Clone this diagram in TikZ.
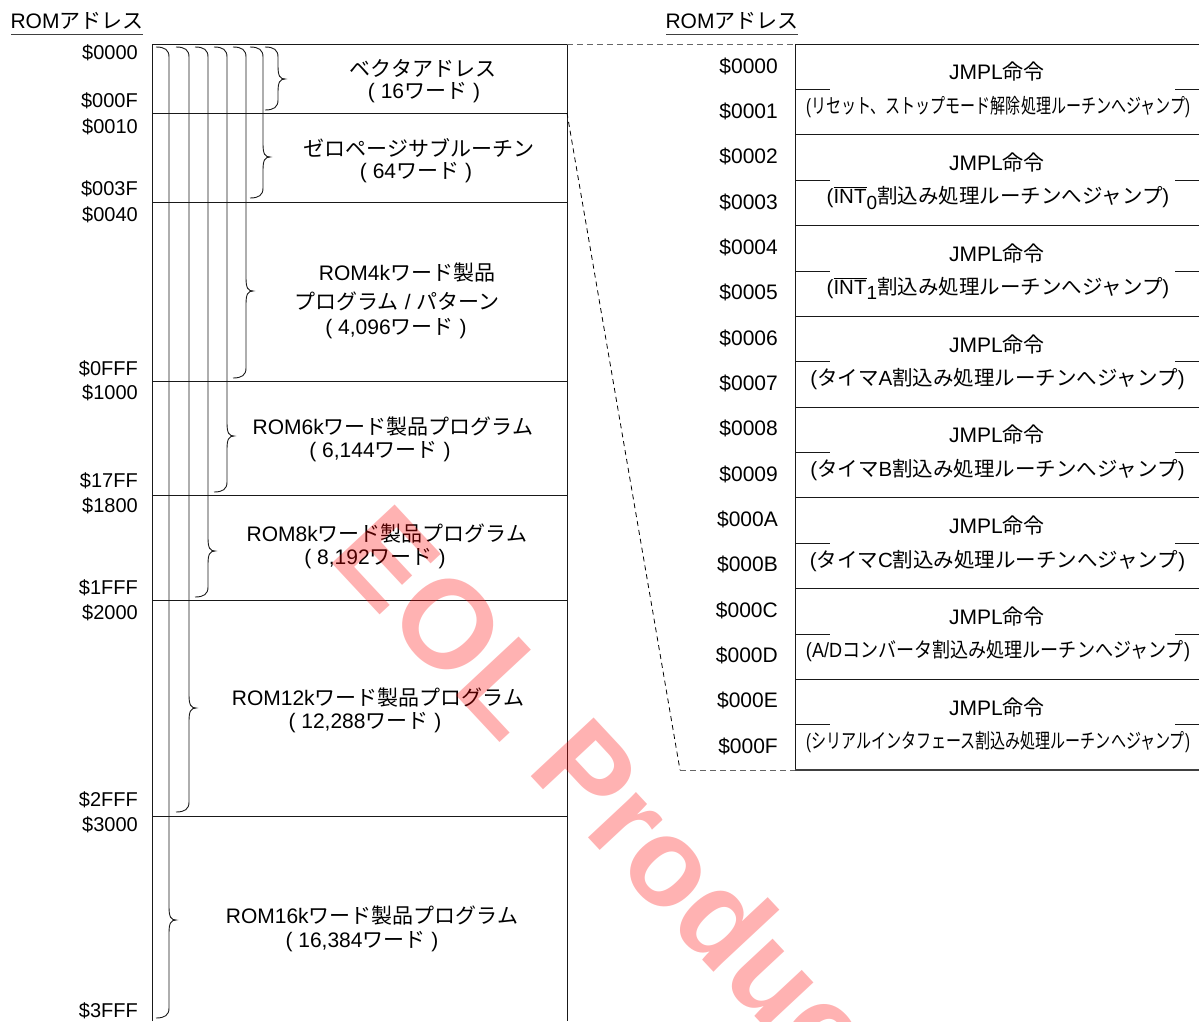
\documentclass[tikz,border=0pt]{standalone}
\usepackage{fontspec}
\usepackage{graphicx}
\setmainfont{Liberation Sans}
\newfontfamily\ja{Noto Sans CJK JP}
\newcommand\J[1]{{\ja #1}}
\newsavebox\ovbox
\newcommand\ovl[1]{\sbox\ovbox{#1}\rlap{\rule[\dimexpr\ht\ovbox+1.2pt\relax]{\wd\ovbox}{0.9pt}}\usebox\ovbox}
\newcommand\subz[1]{\raisebox{-0.28em}{\fontsize{19}{19}\selectfont #1}}
\newcommand\membrace[4]{% spine x, top y, tip y, bottom y
  \draw[bracestyle] (#1-13,#2) .. controls (#1-4,#2) and (#1,#2+3) .. (#1,#2+10)
    -- (#1,#3-13) .. controls (#1,#3-3) and (#1+2,#3) .. (#1+7,#3)
    .. controls (#1+2,#3) and (#1,#3+3) .. (#1,#3+13)
    -- (#1,#4-10) .. controls (#1,#4-3) and (#1-4,#4) .. (#1-13,#4);}
\tikzset{
  frame/.style={line width=1pt, draw=black!90},
  bracestyle/.style={line width=0.9pt, draw=black!90},
  hdr/.style={inner sep=0, font=\fontsize{21}{21}\selectfont},
  ul/.style={line width=1pt, draw=black!75},
  laddr/.style={anchor=east, inner sep=0, font=\fontsize{20}{20}\selectfont},
  raddr/.style={anchor=east, inner sep=0, font=\fontsize{21}{21}\selectfont},
  secline/.style={inner sep=0, font=\fontsize{21}{21}\selectfont},
  cell/.style={inner sep=0, font=\fontsize{21}{21}\selectfont},
  pcell/.style={inner sep=0, font=\fontsize{20.5}{21}\selectfont},
  dashgray/.style={line width=1pt, draw=black!60, dash pattern=on 6pt off 4pt},
  dashblack/.style={line width=0.8pt, draw=black, dash pattern=on 5pt off 4pt},
  wm/.style={rotate=-47, inner sep=0, text=red, text opacity=0.3, font=\fontsize{125}{125}\selectfont\bfseries}
}
\begin{document}
\begin{tikzpicture}[x=1pt,y=-1pt]
\useasboundingbox (0,0) rectangle (1199,1021);
% headers
\node[hdr] (lhdr) at (77,21) {ROM\J{アドレス}};
\draw[ul] (11,34) -- (143,34);
\node[hdr] (rhdr) at (732,21) {ROM\J{アドレス}};
\draw[ul] (666,34) -- (798,34);
% left memory box
\draw[frame] (152,1021) -- (152,44) -- (567,44) -- (567,1021);
\foreach \yy in {113,202,381,495,600,816}
  \draw[frame] (152,\yy) -- (567,\yy);
% left addresses
\foreach \a/\yy [count=\k] in {0000/53,000F/101,0010/127,003F/189,0040/215,0FFF/369,1000/393,17FF/481,1800/506,1FFF/588,2000/613,2FFF/800,3000/825,3FFF/1011}
  \node[laddr] (la\k) at (138,\yy) {\$\a};
% braces
\membrace{278}{47}{79}{110}
\membrace{263}{47}{157}{198}
\membrace{246}{47}{291}{378}
\membrace{227}{47}{436}{492}
\membrace{208}{47}{551}{597}
\membrace{189}{47}{708}{812}
\membrace{169}{47}{920}{1018}
% section labels
\node[secline] (sv1) at (423,68) {\J{ベクタアドレス}};
\node[secline] (sv2) at (424,93) {(\ 16\J{ワード}\ )};
\node[secline] (sz1) at (419,148) {\J{ゼロページサブルーチン}};
\node[secline] (sz2) at (416,173) {(\ 64\J{ワード}\ )};
\node[secline] (s41) at (407,273) {ROM4k\J{ワード製品}};
\node[secline] (s42) at (397,301) {\J{プログラム}\ /\ \J{パターン}};
\node[secline] (s43) at (396,329) {(\ 4,096\J{ワード}\ )};
\node[secline] (s61) at (393,427) {ROM6k\J{ワード製品プログラム}};
\node[secline] (s62) at (380,452) {(\ 6,144\J{ワード}\ )};
\node[secline] (s81) at (387,534) {ROM8k\J{ワード製品プログラム}};
\node[secline] (s82) at (375,559) {(\ 8,192\J{ワード}\ )};
\node[secline] (s121) at (378,698) {ROM12k\J{ワード製品プログラム}};
\node[secline] (s122) at (365,723) {(\ 12,288\J{ワード}\ )};
\node[secline] (s161) at (372,916) {ROM16k\J{ワード製品プログラム}};
\node[secline] (s162) at (362,942) {(\ 16,384\J{ワード}\ )};
% right table
\draw[frame] (1199,44) -- (795,44) -- (795,770);
\draw[line width=1.6pt, draw=black!75] (795,770) -- (1199,770);
\foreach \i in {1,...,7}
  \draw[frame] (795,44+90.75*\i) -- (1199,44+90.75*\i);
\foreach \i in {0,...,7}{
  \draw[frame] (795,89.5+90.75*\i) -- (830,89.5+90.75*\i);
  \draw[frame] (1175,89.5+90.75*\i) -- (1199,89.5+90.75*\i);
  \node[cell] (j\i) at (997,72+90.75*\i) {JMPL\J{命令}};
}
\foreach \a [count=\k from 0] in {0000,0001,0002,0003,0004,0005,0006,0007,0008,0009,000A,000B,000C,000D,000E,000F}
  \node[raddr] (ra\k) at (778,66+45.33*\k) {\$\a};
\node[pcell] (p0) at (998,107) {\resizebox{384pt}{\height}{(\J{リセット、ストップモード解除処理ルーチンへジャンプ})}};
\node[pcell] (p1) at (998,197.75) {(\ovl{INT}\subz{0}\J{割込み処理ルーチンへジャンプ})};
\node[pcell] (p2) at (998,288.5) {(\ovl{INT}\subz{1}\J{割込み処理ルーチンへジャンプ})};
\node[pcell] (p3) at (997.5,379.25) {(\J{タイマ}A\J{割込み処理ルーチンへジャンプ})};
\node[pcell] (p4) at (997.5,470) {(\J{タイマ}B\J{割込み処理ルーチンへジャンプ})};
\node[pcell] (p5) at (997.5,560.75) {(\J{タイマ}C\J{割込み処理ルーチンへジャンプ})};
\node[pcell] (p6) at (998,651.5) {\resizebox{384pt}{\height}{(A/D\J{コンバータ割込み処理ルーチンへジャンプ})}};
\node[pcell] (p7) at (998,742.25) {\resizebox{384pt}{\height}{(\J{シリアルインタフェース割込み処理ルーチンへジャンプ})}};
% dashed connectors
\coordinate (boxTR) at (567,44);
\coordinate (boxV) at (567,113);
\coordinate (tabTL) at (795,44);
\coordinate (tabBL) at (795,770);
\coordinate (bend) at (680,770);
\draw[dashgray] (boxTR) -- (tabTL);
\draw[dashblack] (boxV) -- (bend);
\draw[dashgray] (bend) -- (tabBL);
% watermark
\node[wm] (wmark) at (620,806) {EOL Product};
\end{tikzpicture}
\end{document}
